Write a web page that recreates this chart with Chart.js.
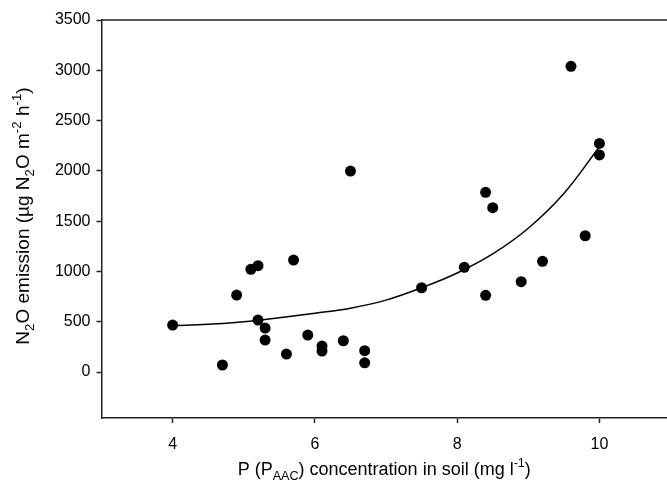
<!DOCTYPE html>
<html>
<head>
<meta charset="utf-8">
<script src="https://cdn.jsdelivr.net/npm/chart.js@4"></script>
<style>
  body { margin: 0; background: #fff; overflow: hidden; }
</style>
</head>
<body>
<canvas id="chart" width="667" height="486"></canvas>
<script>
// measured points: P concentration (mg/l) vs N2O emission
const pX = [4.0, 4.7, 4.9, 5.1, 5.2, 5.7, 5.2, 5.3, 5.3, 5.6, 5.9, 6.1, 6.1, 6.4,
            6.7, 6.7, 6.5, 7.5, 8.1, 8.4, 8.9, 9.2, 9.8, 8.4, 8.5, 9.6, 10.0, 10.0];
const pY = [467, 70, 765, 1021, 1057, 1113, 517, 437, 318, 179, 368, 258, 209, 311,
            212, 92, 1998, 838, 1041, 763, 898, 1101, 1355, 1787, 1634, 3040, 2273, 2158];

// fitted curve
const fitX = [4, 4.5, 5, 5.5, 6, 6.5, 7, 7.5, 8, 8.5, 9, 9.5, 10];
const fitY = [460, 474, 500, 540, 585, 635, 715, 838, 985, 1175, 1430, 1775, 2240];

const xTicks = [4, 6, 8, 10];
const yTicks = [0, 500, 1000, 1500, 2000, 2500, 3000, 3500];

const xTitle = [
  { t: "P (P" }, { t: "AAC", sub: true }, { t: ") concentration in soil (mg l" },
  { t: "-1", sup: true }, { t: ")" }
];
const yTitle = [
  { t: "N" }, { t: "2", sub: true }, { t: "O emission (\u00b5g N" }, { t: "2", sub: true },
  { t: "O m" }, { t: "-2", sup: true }, { t: " h" }, { t: "-1", sup: true }, { t: ")" }
];

const FONT = "'Liberation Sans', Arial, sans-serif";

function richWidth(ctx, parts, size) {
  let w = 0;
  parts.forEach(p => {
    ctx.font = ((p.sub || p.sup) ? size * 0.7 : size) + "px " + FONT;
    w += ctx.measureText(p.t).width;
  });
  return w;
}

function drawRich(ctx, parts, size, cx, cy) {
  let x = cx - richWidth(ctx, parts, size) / 2;
  ctx.textBaseline = "middle";
  ctx.textAlign = "left";
  parts.forEach(p => {
    let dy = 0;
    if (p.sub) dy = size * 0.35;
    if (p.sup) dy = -size * 0.35;
    ctx.font = ((p.sub || p.sup) ? size * 0.7 : size) + "px " + FONT;
    ctx.fillText(p.t, x, cy + dy);
    x += ctx.measureText(p.t).width;
  });
}

const extras = {
  id: "extras",
  afterDraw(chart) {
    const ctx = chart.ctx;
    const a = chart.chartArea;
    ctx.save();
    // top frame line
    ctx.strokeStyle = "#222";
    ctx.lineWidth = 1.5;
    ctx.beginPath();
    ctx.moveTo(a.left, a.top);
    ctx.lineTo(a.right, a.top);
    ctx.stroke();

    ctx.fillStyle = "#000";
    drawRich(ctx, xTitle, 18, (a.left + a.right) / 2, 470);

    ctx.translate(24, 216);
    ctx.rotate(-Math.PI / 2);
    drawRich(ctx, yTitle, 19, 0, 0);
    ctx.restore();
  }
};

const ctx = document.getElementById("chart").getContext("2d");
new Chart(ctx, {
  type: "scatter",
  data: {
    datasets: [
      {
        data: pX.map((x, i) => ({ x: x, y: pY[i] })),
        pointRadius: 5.5,
        pointBackgroundColor: "#000",
        pointBorderWidth: 0,
        showLine: false
      },
      {
        data: fitX.map((x, i) => ({ x: x, y: fitY[i] })),
        showLine: true,
        pointRadius: 0,
        borderColor: "#000",
        borderWidth: 1.5,
        tension: 0.4
      }
    ]
  },
  options: {
    responsive: false,
    animation: false,
    layout: { autoPadding: false, padding: { top: 20, right: 0, left: 0, bottom: 0 } },
    plugins: { legend: { display: false }, tooltip: { enabled: false } },
    scales: {
      x: {
        type: "linear",
        min: 3,
        max: 10.95,
        afterBuildTicks: s => { s.ticks = xTicks.map(v => ({ value: v })); },
        afterFit: s => { s.height = 68; s.paddingLeft = 0; s.paddingRight = 0; },
        grid: { drawOnChartArea: false, tickLength: 5, tickColor: "#222", tickWidth: 1.5 },
        border: { color: "#222", width: 1.5 },
        ticks: { color: "#000", padding: 12, font: { family: FONT, size: 16 } }
      },
      y: {
        min: -457,
        max: 3500,
        afterBuildTicks: s => { s.ticks = yTicks.map(v => ({ value: v })); },
        afterFit: s => { s.width = 101.5; s.paddingTop = 0; s.paddingBottom = 0; },
        grid: { drawOnChartArea: false, tickLength: 5, tickColor: "#222", tickWidth: 1.5 },
        border: { color: "#222", width: 1.5 },
        ticks: { color: "#000", padding: 6, font: { family: FONT, size: 16 },
                 callback: v => String(v) }
      }
    }
  },
  plugins: [extras]
});
</script>
</body>
</html>
